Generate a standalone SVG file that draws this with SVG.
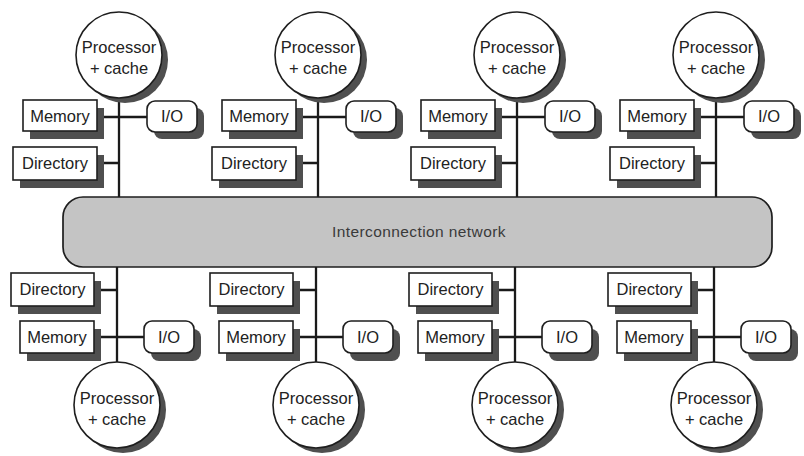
<svg xmlns="http://www.w3.org/2000/svg" width="804" height="456" viewBox="0 0 804 456">
<style>
.bg{fill:#ffffff}
.sh{fill:#4f4f4f}
.box{fill:#ffffff;stroke:#1e1e1e;stroke-width:1.6}
.net{fill:#c4c4c4;stroke:#1e1e1e;stroke-width:1.7}
.ln{stroke:#1a1a1a;stroke-width:2.3;fill:none}
.t{font-family:"Liberation Sans",Arial,Helvetica,sans-serif;font-size:16.5px;fill:#222;text-anchor:middle}
.nt{font-family:"Liberation Sans",Arial,Helvetica,sans-serif;font-size:15.5px;fill:#3a3a3a;text-anchor:middle;letter-spacing:0.4px}
</style>
<rect class="bg" x="0" y="0" width="804" height="456"/>

<g id="connectors">
  <!-- top columns -->
  <path class="ln" d="M119 97V197M97 117H147M97 163H119"/>
  <path class="ln" d="M318 97V197M296 117H346M296 163H318"/>
  <path class="ln" d="M517 97V197M495 117H545M495 163H517"/>
  <path class="ln" d="M716 97V197M694 117H744M694 163H716"/>
  <!-- bottom columns -->
  <path class="ln" d="M117 267V362M94 290H117M94 337H144"/>
  <path class="ln" d="M316 267V362M293 290H316M293 337H343"/>
  <path class="ln" d="M515 267V362M492 290H515M492 337H542"/>
  <path class="ln" d="M714 267V362M691 290H714M691 337H741"/>
</g>

<g id="network">
  <rect class="net" x="63" y="197" width="709" height="70" rx="20"/>
  <text class="nt" x="419" y="237">Interconnection network</text>
</g>

<!-- Column 1 top -->
<g id="proc1">
  <circle class="sh" cx="125" cy="60" r="43"/>
  <circle class="box" cx="119" cy="55" r="43"/>
  <text class="t" x="119" y="53">Processor</text>
  <text class="t" x="119" y="74">+ cache</text>
</g>
<g id="mem1"><rect class="sh" x="30" y="108" width="74" height="31"/><rect class="box" x="23" y="100" width="74" height="31"/><text class="t" x="60" y="122">Memory</text></g>
<g id="io1"><rect class="sh" x="154" y="108" width="50" height="31" rx="8"/><rect class="box" x="147" y="101" width="50" height="31" rx="8"/><text class="t" x="172" y="122">I/O</text></g>
<g id="dir1"><rect class="sh" x="20" y="155" width="84" height="33"/><rect class="box" x="13" y="147" width="84" height="33"/><text class="t" x="55" y="169">Directory</text></g>

<!-- Column 2 top -->
<g id="proc2">
  <circle class="sh" cx="324" cy="60" r="43"/>
  <circle class="box" cx="318" cy="55" r="43"/>
  <text class="t" x="318" y="53">Processor</text>
  <text class="t" x="318" y="74">+ cache</text>
</g>
<g id="mem2"><rect class="sh" x="229" y="108" width="74" height="31"/><rect class="box" x="222" y="100" width="74" height="31"/><text class="t" x="259" y="122">Memory</text></g>
<g id="io2"><rect class="sh" x="353" y="108" width="50" height="31" rx="8"/><rect class="box" x="346" y="101" width="50" height="31" rx="8"/><text class="t" x="371" y="122">I/O</text></g>
<g id="dir2"><rect class="sh" x="219" y="155" width="84" height="33"/><rect class="box" x="212" y="147" width="84" height="33"/><text class="t" x="254" y="169">Directory</text></g>

<!-- Column 3 top -->
<g id="proc3">
  <circle class="sh" cx="523" cy="60" r="43"/>
  <circle class="box" cx="517" cy="55" r="43"/>
  <text class="t" x="517" y="53">Processor</text>
  <text class="t" x="517" y="74">+ cache</text>
</g>
<g id="mem3"><rect class="sh" x="428" y="108" width="74" height="31"/><rect class="box" x="421" y="100" width="74" height="31"/><text class="t" x="458" y="122">Memory</text></g>
<g id="io3"><rect class="sh" x="552" y="108" width="50" height="31" rx="8"/><rect class="box" x="545" y="101" width="50" height="31" rx="8"/><text class="t" x="570" y="122">I/O</text></g>
<g id="dir3"><rect class="sh" x="418" y="155" width="84" height="33"/><rect class="box" x="411" y="147" width="84" height="33"/><text class="t" x="453" y="169">Directory</text></g>

<!-- Column 4 top -->
<g id="proc4">
  <circle class="sh" cx="722" cy="60" r="43"/>
  <circle class="box" cx="716" cy="55" r="43"/>
  <text class="t" x="716" y="53">Processor</text>
  <text class="t" x="716" y="74">+ cache</text>
</g>
<g id="mem4"><rect class="sh" x="627" y="108" width="74" height="31"/><rect class="box" x="620" y="100" width="74" height="31"/><text class="t" x="657" y="122">Memory</text></g>
<g id="io4"><rect class="sh" x="751" y="108" width="50" height="31" rx="8"/><rect class="box" x="744" y="101" width="50" height="31" rx="8"/><text class="t" x="769" y="122">I/O</text></g>
<g id="dir4"><rect class="sh" x="617" y="155" width="84" height="33"/><rect class="box" x="610" y="147" width="84" height="33"/><text class="t" x="652" y="169">Directory</text></g>

<!-- Column 1 bottom -->
<g id="dir5"><rect class="sh" x="18" y="281" width="83" height="33"/><rect class="box" x="11" y="273" width="83" height="33"/><text class="t" x="52.5" y="295">Directory</text></g>
<g id="mem5"><rect class="sh" x="27" y="329" width="74" height="32"/><rect class="box" x="20" y="321" width="74" height="32"/><text class="t" x="57" y="343">Memory</text></g>
<g id="io5"><rect class="sh" x="151" y="329" width="50" height="32" rx="8"/><rect class="box" x="144" y="321" width="50" height="32" rx="8"/><text class="t" x="169" y="343">I/O</text></g>
<g id="proc5">
  <circle class="sh" cx="123" cy="410" r="43"/>
  <circle class="box" cx="117" cy="405" r="43"/>
  <text class="t" x="117" y="404">Processor</text>
  <text class="t" x="117" y="425">+ cache</text>
</g>

<!-- Column 2 bottom -->
<g id="dir6"><rect class="sh" x="217" y="281" width="83" height="33"/><rect class="box" x="210" y="273" width="83" height="33"/><text class="t" x="251.5" y="295">Directory</text></g>
<g id="mem6"><rect class="sh" x="226" y="329" width="74" height="32"/><rect class="box" x="219" y="321" width="74" height="32"/><text class="t" x="256" y="343">Memory</text></g>
<g id="io6"><rect class="sh" x="350" y="329" width="50" height="32" rx="8"/><rect class="box" x="343" y="321" width="50" height="32" rx="8"/><text class="t" x="368" y="343">I/O</text></g>
<g id="proc6">
  <circle class="sh" cx="322" cy="410" r="43"/>
  <circle class="box" cx="316" cy="405" r="43"/>
  <text class="t" x="316" y="404">Processor</text>
  <text class="t" x="316" y="425">+ cache</text>
</g>

<!-- Column 3 bottom -->
<g id="dir7"><rect class="sh" x="416" y="281" width="83" height="33"/><rect class="box" x="409" y="273" width="83" height="33"/><text class="t" x="450.5" y="295">Directory</text></g>
<g id="mem7"><rect class="sh" x="425" y="329" width="74" height="32"/><rect class="box" x="418" y="321" width="74" height="32"/><text class="t" x="455" y="343">Memory</text></g>
<g id="io7"><rect class="sh" x="549" y="329" width="50" height="32" rx="8"/><rect class="box" x="542" y="321" width="50" height="32" rx="8"/><text class="t" x="567" y="343">I/O</text></g>
<g id="proc7">
  <circle class="sh" cx="521" cy="410" r="43"/>
  <circle class="box" cx="515" cy="405" r="43"/>
  <text class="t" x="515" y="404">Processor</text>
  <text class="t" x="515" y="425">+ cache</text>
</g>

<!-- Column 4 bottom -->
<g id="dir8"><rect class="sh" x="615" y="281" width="83" height="33"/><rect class="box" x="608" y="273" width="83" height="33"/><text class="t" x="649.5" y="295">Directory</text></g>
<g id="mem8"><rect class="sh" x="624" y="329" width="74" height="32"/><rect class="box" x="617" y="321" width="74" height="32"/><text class="t" x="654" y="343">Memory</text></g>
<g id="io8"><rect class="sh" x="748" y="329" width="50" height="32" rx="8"/><rect class="box" x="741" y="321" width="50" height="32" rx="8"/><text class="t" x="766" y="343">I/O</text></g>
<g id="proc8">
  <circle class="sh" cx="720" cy="410" r="43"/>
  <circle class="box" cx="714" cy="405" r="43"/>
  <text class="t" x="714" y="404">Processor</text>
  <text class="t" x="714" y="425">+ cache</text>
</g>
</svg>
